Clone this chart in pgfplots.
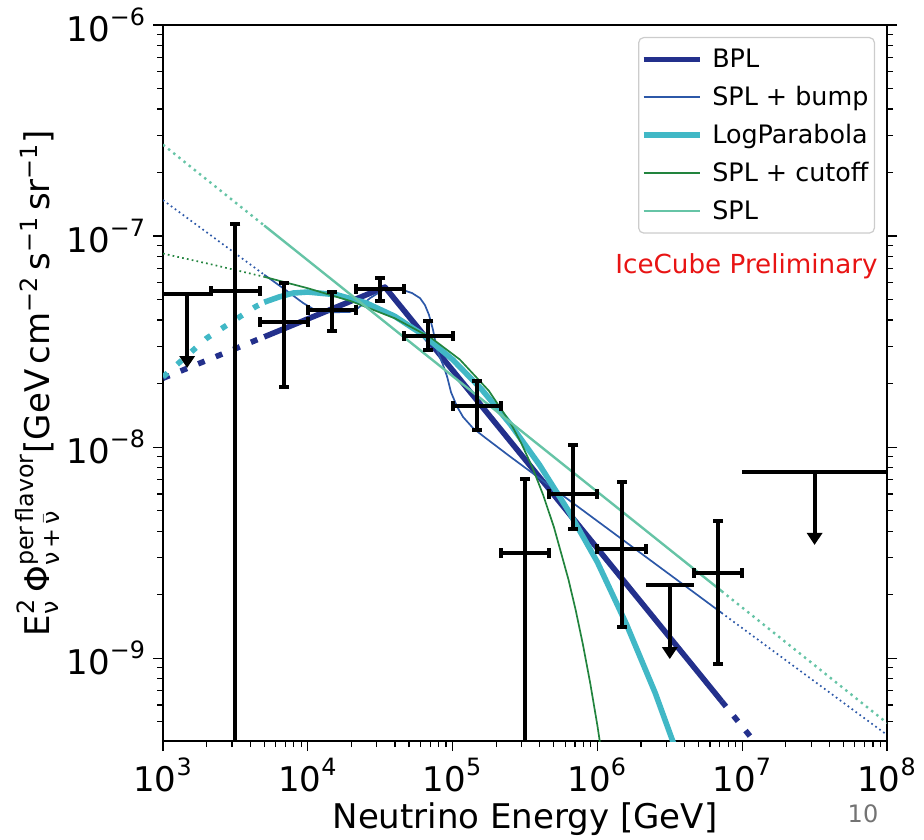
\documentclass[border=0pt]{standalone}
\usepackage{fontspec}
\setmainfont{DejaVu Sans}
\usepackage{amsmath}
\usepackage{pgfplots}
\pgfplotsset{compat=1.18}
\usetikzlibrary{arrows.meta}
\definecolor{cBPL}{RGB}{35,48,140}
\definecolor{cBump}{RGB}{44,88,168}
\definecolor{cLP}{RGB}{65,184,198}
\definecolor{cCut}{RGB}{34,132,62}
\definecolor{cSPL}{RGB}{102,196,166}
\definecolor{cRed}{RGB}{232,20,20}
\pgfplotsset{
  ebx/.style={black, line width=2pt, mark=|, mark size=2.5pt, mark options={solid, line width=2pt}, forget plot},
  eby/.style={black, line width=2pt, mark=-, mark size=2.5pt, mark options={solid, line width=2pt}, forget plot},
  ul/.style={black, line width=2pt, forget plot},
  ula/.style={black, line width=2pt, forget plot, -{Triangle[width=7.5pt,length=6pt]}},
}
\newcommand{\legtxt}[1]{\hspace*{3pt}#1}

\begin{document}
\begin{tikzpicture}
\begin{axis}[
  xmode=log, ymode=log,
  scale only axis, width=362pt, height=358pt,
  xmin=1e3, xmax=1e8, ymin=4.05e-10, ymax=1e-6,
  axis line style={line width=0.8pt},
  tick align=outside, xtick pos=left, ytick pos=both, yticklabel pos=left,
  major tick length=5pt, minor tick length=3pt,
  every tick/.style={black, line width=0.6pt},
  xtick={1e3,1e4,1e5,1e6,1e7,1e8},
  xticklabels={$\text{10}^{\text{3}}$,$\text{10}^{\text{4}}$,$\text{10}^{\text{5}}$,$\text{10}^{\text{6}}$,$\text{10}^{\text{7}}$,$\text{10}^{\text{8}}$},
  ytick={1e-9,1e-8,1e-7,1e-6},
  yticklabels={$\text{10}^{\text{−9}}$,$\text{10}^{\text{−8}}$,$\text{10}^{\text{−7}}$,$\text{10}^{\text{−6}}$},
  minor xtick={2e3,3e3,4e3,5e3,6e3,7e3,8e3,9e3,2e4,3e4,4e4,5e4,6e4,7e4,8e4,9e4,2e5,3e5,4e5,5e5,6e5,7e5,8e5,9e5,2e6,3e6,4e6,5e6,6e6,7e6,8e6,9e6,2e7,3e7,4e7,5e7,6e7,7e7,8e7,9e7},
  minor ytick={5e-10,6e-10,7e-10,8e-10,9e-10,2e-9,3e-9,4e-9,5e-9,6e-9,7e-9,8e-9,9e-9,2e-8,3e-8,4e-8,5e-8,6e-8,7e-8,8e-8,9e-8,2e-7,3e-7,4e-7,5e-7,6e-7,7e-7,8e-7,9e-7},
  tick label style={font=\fontsize{17}{20}\selectfont},
  label style={font=\fontsize{17}{20}\selectfont},
  xlabel={Neutrino Energy [GeV]},
  xlabel style={at={(axis description cs:0.5,-0.1215)}, anchor=base},
  ylabel={$\text{E}_{\text{ν}}^{\text{2}}\,\text{Φ}_{\text{ν\,+\,}\bar{\text{ν}}}^{\text{per\,flavor}}$[GeV\,cm$^{\text{−2}}$\,s$^{\text{−1}}$\,sr$^{\text{−1}}$]},
  ylabel style={at={(axis description cs:-0.1561,0.5)}, anchor=base},
  legend cell align=left,
  legend image code/.code={\draw[#1] (0pt,0pt) -- (28pt,0pt);},
  legend style={at={(rel axis cs:1,1)}, anchor=north east, xshift=-6pt, yshift=-6pt,
    draw=black!20, line width=0.6pt, rounded corners=2.5pt, fill=white, fill opacity=0.8, text opacity=1,
    font=\fontsize{12.7}{15}\selectfont, inner xsep=1pt, inner ysep=3.5pt, row sep=3.9pt},
  every axis plot/.append style={line join=round},
]
% ---- BPL ----
\addplot[cBPL, line width=2.8pt, dash pattern=on 3.5pt off 6pt, forget plot] coordinates {(1000,2.12e-8) (5000,3.33e-8)};
\addplot[cBPL, line width=2.8pt] coordinates {(5000,3.33e-8) (34100,5.73e-8) (7.2e6,6.26e-10)};
\addlegendentry{\legtxt{BPL}}
\addplot[cBPL, line width=2.8pt, dash pattern=on 3.5pt off 6pt, forget plot] coordinates {(7.2e6,6.26e-10) (1.41e7,3.55e-10)};
% ---- SPL + bump ----
\addplot[cBump, line width=0.85pt, dash pattern=on 0.85pt off 1.6pt, forget plot] coordinates {(1000,1.48e-7) (5000,6.56e-8)};
\addplot[cBump, line width=0.85pt] coordinates {
(5000,6.56e-8) (7295,5.45e-8) (9268,4.82e-8) (10864,4.52e-8) (14223,4.35e-8) (19543,4.37e-8)
(22233,4.56e-8) (26915,5.08e-8) (33037,5.55e-8) (43351,5.61e-8) (52481,5.37e-8) (59566,5.08e-8)
(64417,4.71e-8) (68707,4.23e-8) (73282,3.59e-8) (77983,2.88e-8) (85901,2.45e-8) (91411,2.17e-8)
(97499,1.82e-8) (107150,1.56e-8) (118030,1.39e-8) (138360,1.23e-8) (167490,1.11e-8) (251189,8.99e-9)
(7.2e6,1.64e-9)};
\addlegendentry{\legtxt{SPL + bump}}
\addplot[cBump, line width=0.85pt, dash pattern=on 0.85pt off 1.6pt, forget plot] coordinates {(7.2e6,1.64e-9) (1e8,4.33e-10)};
% ---- LogParabola ----
\addplot[cLP, line width=2.8pt, dash pattern=on 3pt off 6.5pt, forget plot] coordinates {(1000,2.15e-8) (2014,3.29e-8) (4315,4.61e-8) (5000,4.86e-8)};
\addplot[cLP, line width=2.8pt] coordinates {
(5000,4.86e-8) (6310,5.14e-8) (7907,5.37e-8) (10000,5.43e-8) (15849,5.27e-8) (25119,4.83e-8)
(39811,4.17e-8) (63096,3.39e-8) (100000,2.60e-8) (158489,1.88e-8) (251189,1.28e-8) (398107,8.24e-9)
(630957,4.99e-9) (1e6,2.85e-9) (1.585e6,1.45e-9) (2.512e6,6.82e-10) (3.981e6,2.86e-10)};
\addlegendentry{\legtxt{LogParabola}}
% ---- SPL + cutoff ----
\addplot[cCut, line width=0.85pt, dash pattern=on 0.85pt off 1.6pt, forget plot] coordinates {(1000,8.26e-8) (2239,7.30e-8) (5000,6.41e-8)};
\addplot[cCut, line width=0.85pt] coordinates {
(5000,6.41e-8) (10000,5.66e-8) (19953,4.91e-8) (39811,4.08e-8) (70795,3.30e-8) (112202,2.60e-8)
(177828,1.85e-8) (251189,1.30e-8) (298538,1.04e-8) (354813,8.04e-9) (421697,5.94e-9) (501187,4.17e-9)
(630957,2.36e-9) (707946,1.69e-9) (794328,1.16e-9) (891251,7.64e-10) (1e6,4.79e-10) (1.122e6,2.84e-10)};
\addlegendentry{\legtxt{SPL + cutoff}}
% ---- SPL ----
\addplot[cSPL, line width=1.2pt, dash pattern=on 1.2pt off 2.1pt, forget plot] coordinates {(1000,2.71e-7) (5000,1.122e-7)};
\addplot[cSPL, line width=1.2pt] coordinates {(5000,1.122e-7) (7.2e6,2.08e-9)};
\addlegendentry{\legtxt{SPL}}
\addplot[cSPL, line width=1.2pt, dash pattern=on 1.2pt off 2.1pt, forget plot] coordinates {(7.2e6,2.08e-9) (1e8,4.93e-10)};
% ---- data points (bin edges, value, error ends) ----
\addplot[ebx] coordinates {(2154,5.48e-8) (4642,5.48e-8)};
\addplot[eby, mark indices={1}] coordinates {(3162,1.14e-7) (3162,1e-10)};
\addplot[ebx] coordinates {(4642,3.91e-8) (10000,3.91e-8)};
\addplot[eby] coordinates {(6813,1.92e-8) (6813,5.98e-8)};
\addplot[ebx] coordinates {(10000,4.46e-8) (21544,4.46e-8)};
\addplot[eby] coordinates {(14678,3.55e-8) (14678,5.43e-8)};
\addplot[ebx] coordinates {(21544,5.61e-8) (46416,5.61e-8)};
\addplot[eby] coordinates {(31623,4.92e-8) (31623,6.32e-8)};
\addplot[ebx] coordinates {(46416,3.36e-8) (100000,3.36e-8)};
\addplot[eby] coordinates {(68129,2.88e-8) (68129,3.95e-8)};
\addplot[ebx] coordinates {(100000,1.56e-8) (215443,1.56e-8)};
\addplot[eby] coordinates {(146780,1.205e-8) (146780,2.06e-8)};
\addplot[ebx] coordinates {(215443,3.15e-9) (464159,3.15e-9)};
\addplot[eby, mark indices={1}] coordinates {(316228,7.05e-9) (316228,1e-10)};
\addplot[ebx] coordinates {(464159,5.98e-9) (1e6,5.98e-9)};
\addplot[eby] coordinates {(681292,4.08e-9) (681292,1.02e-8)};
\addplot[ebx] coordinates {(1e6,3.29e-9) (2154435,3.29e-9)};
\addplot[eby] coordinates {(1467799,1.40e-9) (1467799,6.82e-9)};
\addplot[ebx] coordinates {(4641589,2.53e-9) (1e7,2.53e-9)};
\addplot[eby] coordinates {(6812921,9.37e-10) (6812921,4.46e-9)};
% ---- upper limits ----
\addplot[ul] coordinates {(1000,5.31e-8) (2154,5.31e-8)};
\addplot[ula] coordinates {(1468,5.31e-8) (1468,2.37e-8)};
\addplot[ul] coordinates {(2154435,2.22e-9) (4641589,2.22e-9)};
\addplot[ula] coordinates {(3162278,2.22e-9) (3162278,9.9e-10)};
\addplot[ul] coordinates {(1e7,7.62e-9) (1e8,7.62e-9)};
\addplot[ula] coordinates {(31622777,7.62e-9) (31622777,3.44e-9)};
\node[anchor=base east, inner sep=0pt, text=cRed, font=\fontsize{13.1}{15}\selectfont] at (rel axis cs:0.9876,0.6536) {IceCube Preliminary};
\end{axis}
\node[anchor=base, text=black!55, font=\fontsize{12}{14}\selectfont] at (350pt,-40.5pt) {10};
\pgfresetboundingbox
\path[use as bounding box] (-81.5pt,-49pt) rectangle (380.5pt,370.5pt);
\end{tikzpicture}
\end{document}
